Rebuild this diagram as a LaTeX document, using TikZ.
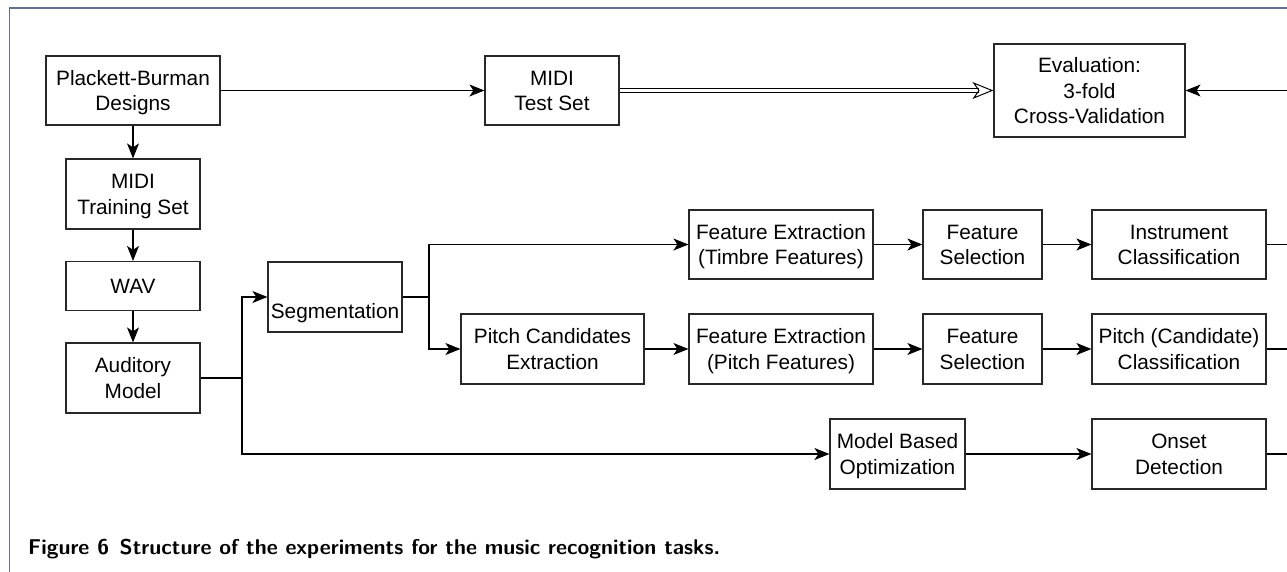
\documentclass[tikz,border=0pt]{standalone}
\usepackage{fontspec}
\setmainfont{Liberation Sans}
\usetikzlibrary{arrows.meta}
\definecolor{framec}{RGB}{95,115,145}
\definecolor{linec}{RGB}{40,40,40}
\newcommand\tx[1]{\raisebox{-2.5pt}[\height][\depth]{\begin{tabular}{@{}c@{}}#1\end{tabular}}}
\tikzset{
  blk/.style={draw=linec, line width=1.2pt, rectangle, inner sep=0pt,
    font=\fontsize{20.8}{25.3}\selectfont},
  arr/.style={draw=black, line width=1.2pt, -{Stealth[length=15pt,width=12pt,inset=4pt]}},
  ln/.style={draw=black, line width=1.2pt},
  dbl/.style={draw=black, line width=1pt, double=white, double distance=2.6pt,
    -{Stealth[open,length=21pt,width=17pt,inset=6pt]}},
}
\begin{document}
\begin{tikzpicture}[x=1pt,y=-1pt]
\useasboundingbox (0,0) rectangle (1287,571);
\draw[framec, line width=1.1pt] (9.5,575) -- (9.5,8) -- (1290,8);

\node[blk, minimum width=174pt, minimum height=69pt] (pb) at (133,90.5) {\tx{Plackett-Burman\\Designs}};
\node[blk, minimum width=134pt, minimum height=69pt] (mts) at (552,90.5) {\tx{MIDI\\Test Set}};
\node[blk, minimum width=191pt, minimum height=93pt] (ev) at (1089.5,90.5) {\tx{Evaluation:\\3-fold\\Cross-Validation}};
\node[blk, minimum width=134pt, minimum height=70pt] (mtr) at (133,194) {\tx{MIDI\\Training Set}};
\node[blk, minimum width=134pt, minimum height=49pt] (wav) at (133,286) {\tx{WAV}};
\node[blk, minimum width=134pt, minimum height=70pt] (aud) at (133,378) {\tx{Auditory\\Model}};
\node[blk, minimum width=134pt, minimum height=70pt] (seg) at (335,297) {};
\node[font=\fontsize{20.8}{25}\selectfont, inner sep=0pt] (segt) at (335,313) {Segmentation};
\node[blk, minimum width=183pt, minimum height=70pt] (pce) at (552.5,349) {\tx{Pitch Candidates\\Extraction}};
\node[blk, minimum width=184pt, minimum height=69pt] (fet) at (781,244.5) {\tx{Feature Extraction\\(Timbre Features)}};
\node[blk, minimum width=184pt, minimum height=70pt] (fep) at (781,349) {\tx{Feature Extraction\\(Pitch Features)}};
\node[blk, minimum width=119pt, minimum height=69pt] (fs1) at (982.5,244.5) {\tx{Feature\\Selection}};
\node[blk, minimum width=119pt, minimum height=70pt] (fs2) at (982.5,349) {\tx{Feature\\Selection}};
\node[blk, minimum width=174pt, minimum height=69pt] (ic) at (1179,244.5) {\tx{Instrument\\Classification}};
\node[blk, minimum width=174pt, minimum height=70pt] (pc) at (1179,349) {\tx{Pitch (Candidate)\\Classification}};
\node[blk, minimum width=135pt, minimum height=70pt] (mbo) at (897.5,454) {\tx{Model Based\\Optimization}};
\node[blk, minimum width=174pt, minimum height=70pt] (od) at (1179,454) {\tx{Onset\\Detection}};

\coordinate (er) at (1290,90.5);
\coordinate (icr) at (1290,244.5);
\coordinate (pcr) at (1290,349);
\coordinate (odr) at (1290,454);
\coordinate (j1) at (242,378);
\coordinate (j2) at (429,297);

\draw[arr] (pb) -- (mts);
\draw[dbl] (mts) -- (ev);
\draw[arr] (er) -- (ev);
\draw[arr] (pb) -- (mtr);
\draw[arr] (mtr) -- (wav);
\draw[arr] (wav) -- (aud);
\draw[ln] (aud.east) -- (j1);
\draw[arr] (j1) |- (seg.west);
\draw[arr] (j1) |- (mbo.west);
\draw[ln] (seg.east) -- (j2);
\draw[arr] (j2) |- (fet.west);
\draw[arr] (j2) |- (pce.west);
\draw[arr] (pce) -- (fep);
\draw[arr] (fet) -- (fs1);
\draw[arr] (fs1) -- (ic);
\draw[arr] (fep) -- (fs2);
\draw[arr] (fs2) -- (pc);
\draw[arr] (mbo) -- (od);
\draw[ln] (ic.east) -- (icr);
\draw[ln] (pc.east) -- (pcr);
\draw[ln] (od.east) -- (odr);

\node[anchor=base west, inner sep=0pt, font=\fontsize{21.4}{24}\selectfont\sffamily\bfseries] (cap) at (28,554)
  {Figure 6\enspace Structure of the experiments for the music recognition tasks.};
\end{tikzpicture}
\end{document}
